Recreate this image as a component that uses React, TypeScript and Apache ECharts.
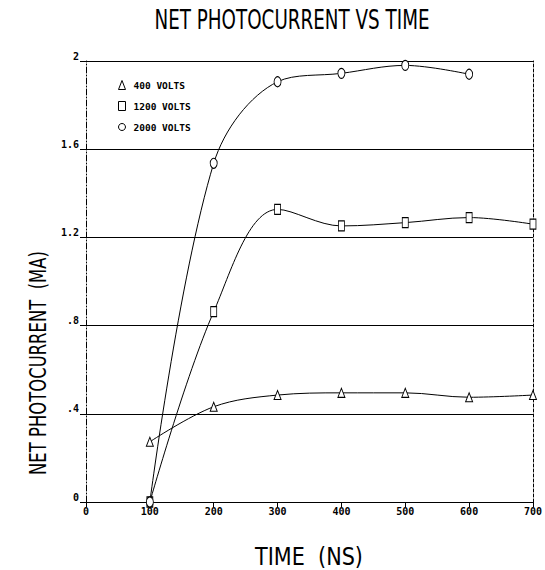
import React, { useEffect, useRef } from "react";
import * as echarts from "echarts";

const timeNs = [100, 200, 300, 400, 500, 600, 700];
const volts400 = [0.273, 0.432, 0.485, 0.495, 0.495, 0.475, 0.485];
const volts1200 = [0.0, 0.863, 1.327, 1.252, 1.267, 1.29, 1.26];
const volts2000 = [0.0, 1.536, 1.906, 1.944, 1.98, 1.94];
const seriesNames = ["400 VOLTS", "1200 VOLTS", "2000 VOLTS"];
const yTickLabels = ["0", ".4", ".8", "1.2", "1.6", "2"];
const xTickLabels = ["0", "100", "200", "300", "400", "500", "600", "700"];

const NARROW = "'DejaVu Sans', sans-serif";
const MONO = "'DejaVu Sans Mono', 'Liberation Mono', monospace";

function pairs(xs: number[], ys: number[]) {
  return ys.map((y, i) => [xs[i], y]);
}

export default function App() {
  const ref = useRef<HTMLDivElement>(null);
  useEffect(() => {
    if (!ref.current) return;
    const chart = echarts.init(ref.current, null, { renderer: "svg" });
    const mkSeries = (name: string, data: number[][], symbol: string, size: number[]) => ({
      name,
      type: "line",
      data,
      smooth: 0.35,
      symbol,
      symbolSize: size,
      showSymbol: true,
      lineStyle: { color: "#000", width: 1 },
      itemStyle: { color: "#fff", borderColor: "#000", borderWidth: 1 },
      emphasis: { disabled: true },
      z: 3,
    });
    chart.setOption({
      animation: false,
      backgroundColor: "#fff",
      grid: { left: 86, right: 4, top: 61, bottom: 68, containLabel: false },
      xAxis: {
        type: "value",
        min: 0,
        max: 700,
        interval: 100,
        axisLine: { show: true, lineStyle: { color: "#000", width: 1.2 } },
        axisTick: { show: true, length: 5, lineStyle: { color: "#000" } },
        splitLine: { show: false },
        axisLabel: {
          color: "#000",
          fontFamily: MONO,
          fontWeight: "bold",
          fontSize: 10,
          margin: 4,
          formatter: (v: number) => xTickLabels[Math.round(v / 100)] ?? "",
        },
      },
      yAxis: [
        {
          type: "value",
          min: 0,
          max: 2,
          interval: 0.4,
          axisLine: { show: true, lineStyle: { color: "#000", width: 1, type: [6, 2, 1, 2] } },
          axisTick: { show: true, length: 6, lineStyle: { color: "#000" } },
          splitLine: { show: true, lineStyle: { color: "#000", width: 1.2 } },
          axisLabel: {
            color: "#000",
            fontFamily: MONO,
            fontWeight: "bold",
            fontSize: 10,
            margin: 7,
            verticalAlign: "bottom",
            formatter: (v: number) => yTickLabels[Math.round(v / 0.4)] ?? "",
          },
        },
        {
          type: "value",
          position: "right",
          min: 0,
          max: 2,
          interval: 0.4,
          axisLine: { show: true, lineStyle: { color: "#000", width: 1, type: [3, 2] } },
          axisTick: { show: false },
          splitLine: { show: false },
          axisLabel: { show: false },
        },
      ],
      legend: {
        orient: "vertical",
        left: 113,
        top: 75,
        itemWidth: 7,
        itemHeight: 9,
        itemGap: 11,
        selectedMode: false,
        itemStyle: { color: "#fff", borderColor: "#000", borderWidth: 1 },
        textStyle: { color: "#000", fontFamily: MONO, fontWeight: "bold", fontSize: 9.5, padding: [0, 0, 0, 3] },
        data: [
          { name: seriesNames[0], icon: "triangle" },
          { name: seriesNames[1], icon: "rect" },
          { name: seriesNames[2], icon: "circle" },
        ],
      },
      graphic: [
        {
          type: "text",
          x: 292,
          y: 20,
          scaleX: 0.705,
          style: {
            text: "NET PHOTOCURRENT VS TIME",
            fontFamily: NARROW,
            fontSize: 26,
            fill: "#000",
            align: "center",
            verticalAlign: "middle",
          },
        },
        {
          type: "text",
          x: 38,
          y: 363,
          rotation: Math.PI / 2,
          scaleX: 0.715,
          style: {
            text: "NET PHOTOCURRENT  (MA)",
            fontFamily: NARROW,
            fontSize: 23,
            fill: "#000",
            align: "center",
            verticalAlign: "middle",
          },
        },
        {
          type: "text",
          x: 309,
          y: 556,
          scaleX: 0.83,
          style: {
            text: "TIME  (NS)",
            fontFamily: NARROW,
            fontSize: 25,
            fill: "#000",
            align: "center",
            verticalAlign: "middle",
          },
        },
      ],
      series: [
        mkSeries(seriesNames[0], pairs(timeNs, volts400), "triangle", [7, 9]),
        mkSeries(seriesNames[1], pairs(timeNs, volts1200), "rect", [6, 10]),
        mkSeries(seriesNames[2], pairs(timeNs, volts2000), "circle", [7, 10]),
      ],
    });
    return () => chart.dispose();
  }, []);
  return <div ref={ref} style={{ width: 545, height: 570, position: "absolute", left: 0, top: 0 }} />;
}
